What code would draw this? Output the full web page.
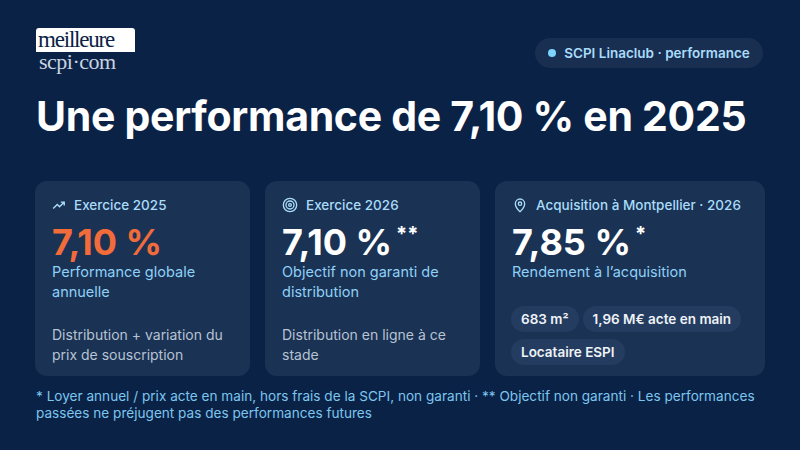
<!DOCTYPE html>
<html><head><meta charset="utf-8">
<script src="https://cdn.jsdelivr.net/npm/chart.js"></script>
<style>
body{margin:0;width:800px;height:450px;background:#0b2247;font-family:Inter,sans-serif;position:relative;overflow:hidden;color:#fff}
.logo{position:absolute;left:36px;top:28px;font-family:"Liberation Serif",serif}
.logo .a{background:#fff;color:#0b2247;font-size:23px;line-height:24px;height:24px;width:95px;padding:0 2px;border-radius:3px 3px 0 0;letter-spacing:-1.2px}
.logo .b{color:#c9d3e0;font-size:22px;line-height:20px;padding-left:3px;letter-spacing:-0.5px}
.pill{position:absolute;left:535px;top:38px;width:228px;height:30px;border-radius:15px;background:#182f52;color:#a9dcfa;font-size:13.5px;font-weight:600;line-height:30px;text-align:center}
.pill i{display:inline-block;width:8px;height:8px;border-radius:4px;background:#7dd3fc;margin-right:8px;vertical-align:1px}
h1{position:absolute;left:36px;top:91px;margin:0;font-size:41px;font-weight:700;letter-spacing:-0.3px}
.card{position:absolute;top:181px;height:195px;background:#1a3254;border-radius:12px;box-sizing:border-box;padding:15px 17px}
.t{color:#a9dcfa;font-size:13.5px;font-weight:500;display:flex;align-items:center;gap:8px;height:18px;white-space:nowrap}
.v{font-size:36px;font-weight:700;margin-top:6px;height:42px}
.v sup{font-size:20px;vertical-align:14px;margin-left:4px}
.s{color:#8fd0f7;font-size:14.5px;line-height:20px;margin-top:0}
.n{position:absolute;left:17px;top:144px;color:#b7c3d3;font-size:14px;line-height:20px}
.tags{position:absolute;left:16px;top:125px;width:250px}
.tag{display:inline-block;background:#243c5f;border-radius:13px;padding:0 10px;height:26px;line-height:26px;font-size:13.5px;font-weight:600;margin:0 4px 7px 0;color:#eef3f8}
.foot{position:absolute;left:36px;top:388px;width:740px;color:#7cc6ee;font-size:13.6px;line-height:17px}
</style></head><body>
<div class="logo"><div class="a">meilleure</div><div class="b">scpi·com</div></div>
<div class="pill"><i></i>SCPI Linaclub · performance</div>
<h1 id="title"></h1>
<div id="cards"></div>
<div class="foot" id="foot"></div>
<script>
const titleText = 'Une performance de 7,10 % en 2025';
const cardTitles = ['Exercice 2025', 'Exercice 2026', 'Acquisition à Montpellier · 2026'];
const cardValues = ['7,10 %', '7,10 %', '7,85 %'];
const cardMarks = ['', '**', '*'];
const cardSubs = ['Performance globale annuelle', 'Objectif non garanti de distribution', 'Rendement à l’acquisition'];
const cardNotes = ['Distribution + variation du prix de souscription', 'Distribution en ligne à ce stade', ''];
const tags = ['683 m²', '1,96 M€ acte en main', 'Locataire ESPI'];
const footText = '* Loyer annuel / prix acte en main, hors frais de la SCPI, non garanti · ** Objectif non garanti · Les performances passées ne préjugent pas des performances futures';

const icons = [
  '<svg width="14" height="14" viewBox="0 0 24 24" fill="none" stroke="#a9dcfa" stroke-width="2.4"><path d="M2 18l7-7 4 4 8-8M15 7h6v6"/></svg>',
  '<svg width="16" height="16" viewBox="0 0 24 24" fill="none" stroke="#a9dcfa" stroke-width="2"><circle cx="12" cy="12" r="10"/><circle cx="12" cy="12" r="6"/><circle cx="12" cy="12" r="2"/></svg>',
  '<svg width="16" height="16" viewBox="0 0 24 24" fill="none" stroke="#a9dcfa" stroke-width="2"><path d="M12 22s7-6.5 7-12a7 7 0 0 0-14 0c0 5.5 7 12 7 12z"/><circle cx="12" cy="10" r="2.5"/></svg>'
];
const lefts = [35, 265, 495], widths = [215, 215, 270];
document.getElementById('title').textContent = titleText;
document.getElementById('foot').textContent = footText;
let html = '';
cardTitles.forEach((t, i) => {
  html += `<div class="card" style="left:${lefts[i]}px;width:${widths[i]}px">
    <div class="t">${icons[i]}${t}</div>
    <div class="v" style="color:${i === 0 ? '#f26b3a' : '#fff'}">${cardValues[i]}${cardMarks[i] ? '<sup>' + cardMarks[i] + '</sup>' : ''}</div>
    <div class="s">${cardSubs[i]}</div>
    ${cardNotes[i] ? `<div class="n">${cardNotes[i]}</div>` : ''}
    ${i === 2 ? `<div class="tags">${tags.map(g => `<span class="tag">${g}</span>`).join('')}</div>` : ''}
  </div>`;
});
document.getElementById('cards').innerHTML = html;
</script>
</body></html>
